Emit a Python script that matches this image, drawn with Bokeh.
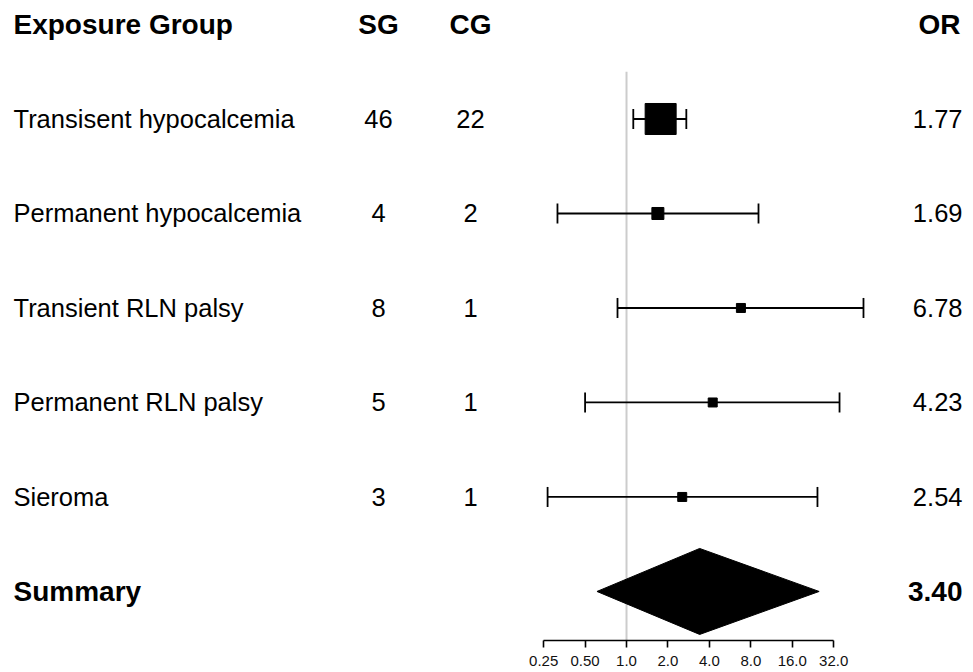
from bokeh.plotting import figure
from bokeh.models import Range1d, FixedTicker, ColumnDataSource, LinearScale
from bokeh.core.properties import value
from bokeh.embed import file_html
from bokeh.resources import INLINE

# ---- data ----
groups = ["Transisent hypocalcemia", "Permanent hypocalcemia", "Transient RLN palsy",
          "Permanent RLN palsy", "Sieroma"]
sg = [46, 4, 8, 5, 3]
cg = [22, 2, 1, 1, 1]
or_est = [1.77, 1.69, 6.78, 4.23, 2.54]
ci_lo = [1.12, 0.315, 0.86, 0.50, 0.267]
ci_hi = [2.72, 9.1, 52.7, 35.3, 24.4]
weights = [31, 12, 9, 9, 9]
summary_label = "Summary"
summary_or = 3.40
summary_lo = 0.61
summary_hi = 25.1
ticks = [0.25, 0.5, 1, 2, 4, 8, 16, 32]
tick_labels = ["0.25", "0.50", "1.0", "2.0", "4.0", "8.0", "16.0", "32.0"]
headers = ["Exposure Group", "SG", "CG", "OR"]

# ---- layout constants ----
FW, FH = 965, 640
FONT = "Liberation Sans"
REG = "25.5px"
BOLD = "28px"

rows = list(range(1, len(groups) + 1))
sum_row = len(groups) + 1

p = figure(x_axis_type="log", frame_width=FW, frame_height=FH,
           x_range=Range1d(2 ** -15.11, 2 ** 8.182),
           y_range=Range1d(6.519, -0.254),
           output_backend="svg", toolbar_location=None,
           min_border=0, min_border_bottom=0)
p.outline_line_color = None
p.xgrid.visible = False
p.ygrid.visible = False
p.yaxis.visible = False
p.background_fill_color = "white"

# pixel-based linear range for the text columns
p.extra_x_ranges = {"px": Range1d(0, FW)}
p.extra_x_scales = {"px": LinearScale()}

# reference line at OR = 1
p.segment(x0=[1], x1=[1], y0=[0.5], y1=[6.52], line_color="#cccccc", line_width=2)

# CI lines and caps
cap = 0.106
lw = 1.8
p.segment(x0=ci_lo, x1=ci_hi, y0=rows, y1=rows, line_color="black", line_width=lw)
p.segment(x0=ci_lo, x1=ci_lo, y0=[r - cap for r in rows], y1=[r + cap for r in rows],
          line_color="black", line_width=lw)
p.segment(x0=ci_hi, x1=ci_hi, y0=[r - cap for r in rows], y1=[r + cap for r in rows],
          line_color="black", line_width=lw)

# boxes
p.scatter(x=or_est, y=rows, size=weights, marker="square",
          fill_color="black", line_color="black")

# summary diamond
dh = 0.455
p.patch(x=[summary_lo, summary_or, summary_hi, summary_or],
        y=[sum_row, sum_row - dh, sum_row, sum_row + dh],
        fill_color="black", line_color="black")

# axis
ax = p.xaxis[0]
ax.bounds = (ticks[0], ticks[-1])
ax.ticker = FixedTicker(ticks=ticks)
ax.major_label_overrides = {t: l for t, l in zip(ticks, tick_labels)}
ax.major_label_text_font = FONT
ax.major_label_text_font_size = "15px"
ax.major_label_text_color = "#111111"
ax.major_label_standoff = 8
ax.major_tick_out = 7
ax.major_tick_in = 0
ax.minor_tick_out = 0
ax.minor_tick_in = 0
ax.axis_line_width = 1.6
ax.major_tick_line_width = 1.6
ax.axis_line_color = "black"

# text columns (x in pixel range)
x_name, x_sg, x_cg, x_or = 13, 378, 470, 962

def txt(xs, ys, texts, align, bold=False):
    src = ColumnDataSource(dict(x=xs, y=ys, t=texts))
    p.text(x="x", y="y", text="t", source=src, x_range_name="px",
           text_align=align, text_baseline="middle",
           text_font=value(FONT), text_font_size=BOLD if bold else REG,
           text_font_style="bold" if bold else "normal", text_color="black")

# headers
txt([x_name], [0], [headers[0]], "left", True)
txt([x_sg], [0], [headers[1]], "center", True)
txt([x_cg], [0], [headers[2]], "center", True)
txt([x_or - 2], [0], [headers[3]], "right", True)

txt([x_name] * len(groups), rows, groups, "left")
txt([x_sg] * len(groups), rows, [str(v) for v in sg], "center")
txt([x_cg] * len(groups), rows, [str(v) for v in cg], "center")
txt([x_or] * len(groups), rows, ["%.2f" % v for v in or_est], "right")

txt([x_name], [sum_row], [summary_label], "left", True)
txt([x_or], [sum_row], ["%.2f" % summary_or], "right", True)

open("out.html", "w").write(file_html(p, INLINE))
